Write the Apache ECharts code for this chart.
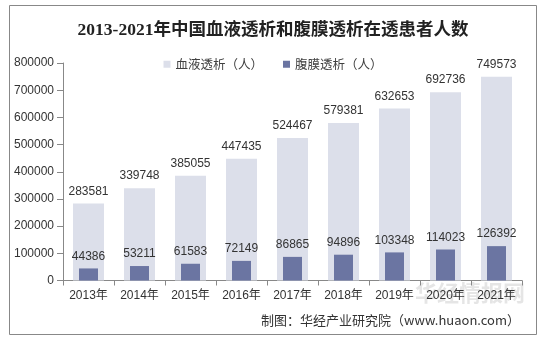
<!DOCTYPE html>
<html><head><meta charset="utf-8">
<script src="https://cdn.jsdelivr.net/npm/echarts@6/dist/echarts.min.js"></script>
<style>html,body{margin:0;padding:0;background:#fff}#c{width:546px;height:344px}</style>
</head><body><div id="c"></div>
<script>
var categories = ['2013年','2014年','2015年','2016年','2017年','2018年','2019年','2020年','2021年'];
var hemodialysis = [283581,339748,385055,447435,524467,579381,632653,692736,749573];
var peritoneal = [44386,53211,61583,72149,86865,94896,103348,114023,126392];
var seriesNames = ['血液透析（人）','腹膜透析（人）'];
var titleText = '2013-2021年中国血液透析和腹膜透析在透患者人数';
var sourceText = '制图：华经产业研究院（www.huaon.com）';

var chart = echarts.init(document.getElementById('c'));
var lab = {show:true, position:'top', distance:6, color:'#333', fontSize:12, fontFamily:'Liberation Sans, Arial'};
chart.setOption({
  animation:false,
  backgroundColor:'#fff',
  title:{text:titleText, left:'center', top:17,
    textStyle:{fontSize:17.5, fontWeight:'bold', color:'#222', fontFamily:'Liberation Serif, Noto Sans CJK SC'}},
  legend:{top:53, left:'center', icon:'rect', itemWidth:7, itemHeight:7, itemGap:20, itemStyle:{borderWidth:0},
    textStyle:{fontSize:12.5, color:'#404040', fontFamily:'Noto Sans CJK SC'}, data:seriesNames},
  grid:{left:63, right:24, top:63, bottom:63.5},
  xAxis:[{type:'category', data:categories,
    axisLine:{lineStyle:{color:'#888'}}, axisTick:{show:true, length:5, lineStyle:{color:'#888'}},
    axisLabel:{color:'#333', fontSize:12, margin:9, fontFamily:'Liberation Sans, Noto Sans CJK SC'}},
   {type:'category', data:categories, show:false}],
  yAxis:{type:'value', min:0, max:800000, interval:100000,
    axisLine:{show:true, lineStyle:{color:'#888'}}, axisTick:{show:true, length:6, lineStyle:{color:'#888'}},
    splitLine:{show:false},
    axisLabel:{color:'#333', fontSize:12, margin:9, fontFamily:'Liberation Sans, Arial',
      formatter:function(v){return String(v);}}},
  series:[
    {name:seriesNames[0], type:'bar', data:hemodialysis, barWidth:31, xAxisIndex:0,
      itemStyle:{color:'#dcdfea'}, label:lab},
    {name:seriesNames[1], type:'bar', data:peritoneal, barWidth:19, xAxisIndex:1,
      itemStyle:{color:'#6b75a2'}, label:lab}
  ],
  graphic:[
    {type:'rect', shape:{x:9.5, y:5.5, width:527, height:329}, style:{fill:null, stroke:'#888', lineWidth:1}, silent:true},
    {type:'text', right:26, top:314, style:{text:sourceText, fontSize:13, fill:'#333', fontFamily:'Noto Sans CJK SC'}},
    {type:'text', left:415, top:282, style:{text:'华经情报网', fontSize:22, fontWeight:'bold', fill:'rgba(150,150,150,0.25)', fontFamily:'Noto Sans CJK SC'}}
  ]
});
</script></body></html>
